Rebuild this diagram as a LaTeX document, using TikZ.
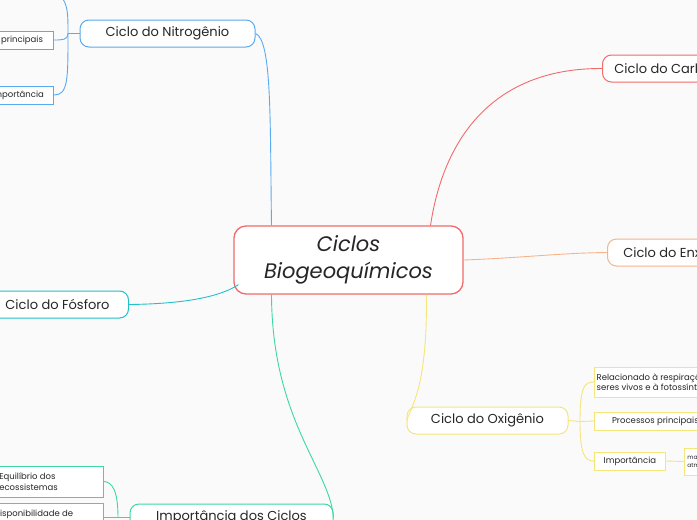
\documentclass[tikz,border=0pt]{standalone}
\usepackage{fontspec}
\setmainfont{Poppins}
\begin{document}
\begin{tikzpicture}[x=1pt,y=-1pt,
 main/.style={draw=#1,line width=1pt,rounded corners=9pt,fill=white,inner sep=0pt,font=\fontsize{13}{15}\selectfont,text=black!85},
 sub/.style={draw=#1,line width=0.8pt,fill=white,inner sep=0pt,font=\fontsize{8.5}{10.5}\selectfont,text=black!85},
 con/.style={draw=#1,line width=0.9pt}]
\definecolor{cred}{HTML}{F26B6B}\definecolor{cblue}{HTML}{5AAAF0}
\definecolor{corg}{HTML}{F6B48A}\definecolor{cyel}{HTML}{F5E67A}
\definecolor{cteal}{HTML}{22C0C8}\definecolor{cgrn}{HTML}{3DD6A6}
\fill[white!98!black] (0,0) rectangle (697,520);
\useasboundingbox (0,0) rectangle (697,520);
\clip (0,0) rectangle (697,520);
% nodes
\node[main=cred,line width=1.3pt,rounded corners=12pt,minimum width=229pt,minimum height=68pt,align=center,font=\fontsize{21}{27}\selectfont\itshape] (c) at (348.5,260) {Ciclos\\Biogeoquímicos};
\node[main=cblue,minimum width=175pt,minimum height=27pt] (n) at (167.5,33.5) {Ciclo do Nitrogênio};
\node[main=cred,minimum width=160pt,minimum height=27pt,anchor=west] (ca) at (602,68.5) {\hspace*{-22pt}Ciclo do Carbono};
\node[main=corg,minimum width=160pt,minimum height=27pt,anchor=west] (en) at (607,252.5) {\hspace*{-25pt}Ciclo do Enxofre};
\node[main=cyel,minimum width=161pt,minimum height=27pt] (o) at (487.5,420.5) {Ciclo do Oxigênio};
\node[main=cteal,minimum width=160pt,minimum height=27pt,anchor=east] (f) at (129,304.5) {\hspace*{18pt}Ciclo do Fósforo};
\node[main=cgrn,minimum width=203pt,minimum height=27pt] (i) at (231.5,517.5) {\raisebox{-6pt}{Importância dos Ciclos}};
% sub nodes
\node[sub=cblue,minimum width=130pt,minimum height=18pt,anchor=east] (n1) at (54,40) {\hspace*{22pt}Processos principais};
\node[sub=cblue,minimum width=130pt,minimum height=18pt,anchor=east] (n2) at (54,95) {\hspace*{58pt}Importância};
\coordinate (n0) at (54,-10);
\node[sub=cyel,minimum width=130pt,minimum height=30pt,anchor=west,align=left] (o1) at (594,382) {\hspace*{2pt}Relacionado à respiração dos\\\hspace*{2pt}seres vivos e à fotossíntese};
\node[sub=cyel,minimum width=130pt,minimum height=18pt,anchor=west] (o2) at (594,421) {\hspace*{-8pt}Processos principais};
\node[sub=cyel,minimum width=71pt,minimum height=18pt,anchor=west] (o3) at (594,461) {Importância};
\node[sub=cyel,minimum height=27pt,anchor=west,align=left,text width=80pt,font=\fontsize{6}{8}\selectfont] (o4) at (684,461.5) {\hspace*{3pt}mantém o\\\hspace*{3pt}atmosfera};
\node[sub=cgrn,minimum width=170pt,minimum height=31pt,anchor=east,align=left] (i1) at (104,481.5) {\hspace*{20pt}Equilíbrio dos\\\hspace*{20pt}ecossistemas};
\node[sub=cgrn,minimum width=170pt,minimum height=31pt,anchor=north east,align=left] (i2) at (104,503) {\hspace*{30pt}Disponibilidade de\\\hspace*{30pt}nutrientes};
% connectors
\draw[con=cblue] ([xshift=-77pt]c.north) .. controls (270,120) and (272,40) .. (n.east);
\draw[con=cred] ([xshift=82pt]c.north) .. controls (445,130) and (500,68) .. (ca.west);
\draw[con=corg] (c.east) .. controls (520,258) and (560,253) .. (en.west);
\draw[con=cyel] ([xshift=78pt]c.south) .. controls (427,380) and (415,400) .. (o.west);
\draw[con=cteal] ([xshift=-110pt,yshift=10pt]c.south) .. controls (215,300) and (170,304) .. (f.east);
\draw[con=cgrn] ([xshift=-77pt]c.south) .. controls (272,420) and (330,470) .. (i.east);
\draw[con=cblue] (n.west) -- (68,33.5);
\draw[con=cblue] (68,33.5) .. controls (68,40) and (62,40) .. (n1.east);
\draw[con=cblue] (68,33.5) .. controls (68,80) and (68,95) .. (n2.east);
\draw[con=cblue] (68,33.5) .. controls (68,10) and (68,0) .. (n0);
\draw[con=cyel] (o.east) -- (580,421.5);
\draw[con=cyel] (580,421.5) .. controls (580,385) and (585,382) .. (o1.west);
\draw[con=cyel] (580,421.5) -- (o2.west);
\draw[con=cyel] (580,421.5) .. controls (580,455) and (585,461) .. (o3.west);
\draw[con=cyel] (o3.east) -- (o4.west);
\draw[con=cgrn] (i.west) -- (118,517.5);
\draw[con=cgrn] (118,517.5) .. controls (118,490) and (112,482) .. (i1.east);
\draw[con=cgrn] (118,517.5) -- (104,517.5);
\end{tikzpicture}
\end{document}
